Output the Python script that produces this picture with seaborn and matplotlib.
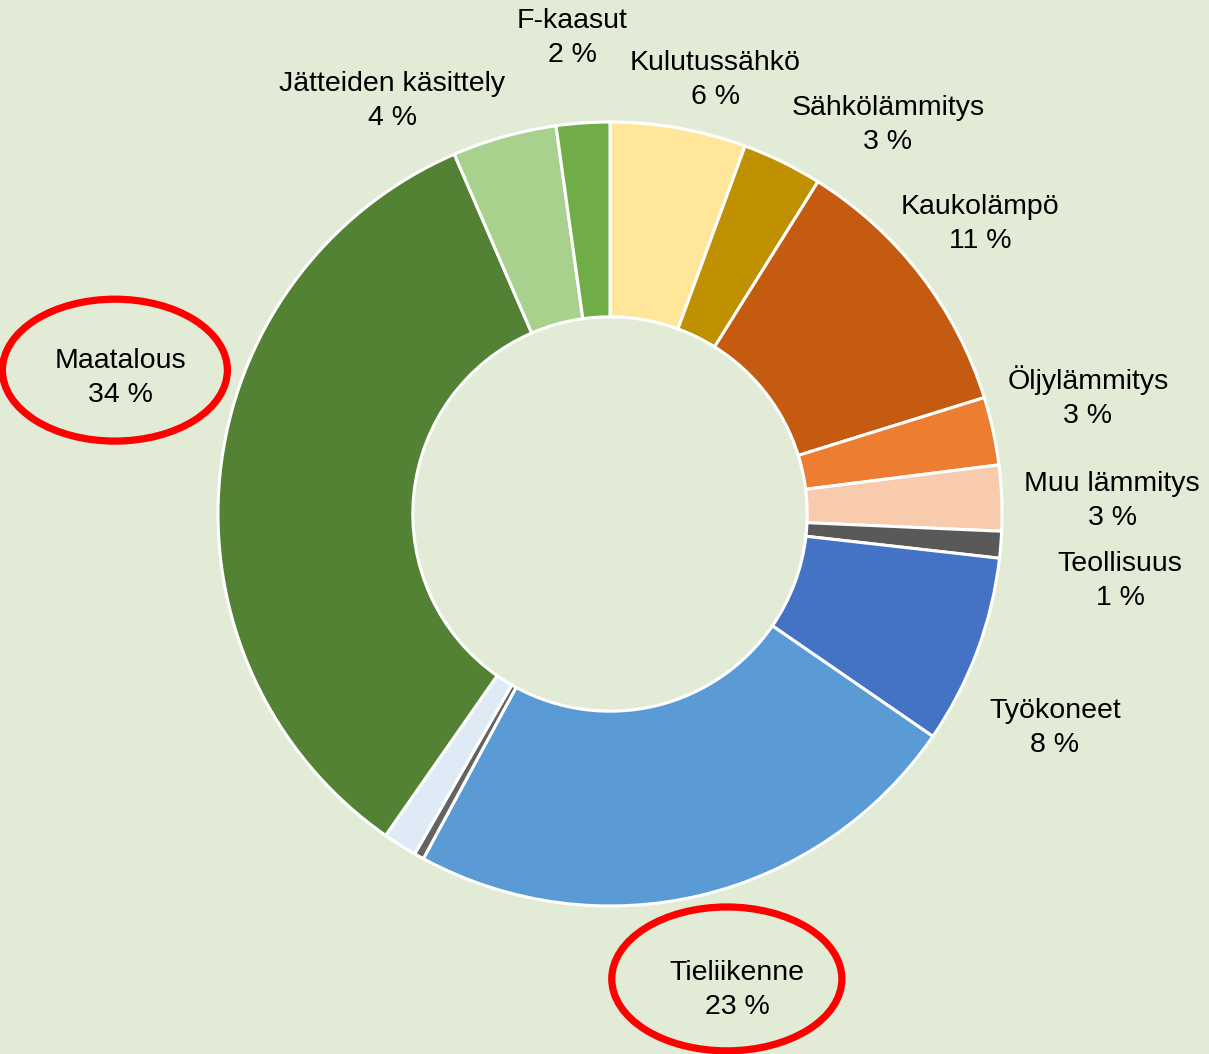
import matplotlib
matplotlib.use("Agg")
import matplotlib.pyplot as plt
from matplotlib.patches import Ellipse
import seaborn as sns

# Share of emissions by sector (%), clockwise from 12 o'clock
sectors = ["Kulutussähkö", "Sähkölämmitys", "Kaukolämpö", "Öljylämmitys",
           "Muu lämmitys", "Teollisuus", "Työkoneet", "Tieliikenne",
           "Muu liikenne", "Muu liikenne 2", "Maatalous",
           "Jätteiden käsittely", "F-kaasut"]
shares = [5.6, 3.3, 11.3, 2.8, 2.7, 1.1, 7.8, 23.3, 0.4, 1.4, 33.8, 4.3, 2.2]
show_label = [True, True, True, True, True, True, True, True,
              False, False, True, True, True]
colors = ["#FFE699", "#BF9000", "#C55A11", "#ED7D31", "#F8CBAD", "#595959",
          "#4472C4", "#5B9BD5", "#636363", "#DEEBF7", "#548235",
          "#A9D18E", "#70AD47"]

# label centres, in units of the outer radius
label_pos = {
    "F-kaasut": (-0.097, 1.214),
    "Kulutussähkö": (0.268, 1.107),
    "Sähkölämmitys": (0.709, 0.992),
    "Kaukolämpö": (0.944, 0.740),
    "Öljylämmitys": (1.219, 0.298),
    "Muu lämmitys": (1.281, 0.033),
    "Teollisuus": (1.301, -0.171),
    "Työkoneet": (1.135, -0.546),
    "Tieliikenne": (0.324, -1.214),
    "Maatalous": (-1.250, 0.347),
    "Jätteiden käsittely": (-0.556, 1.054),
}
highlighted = {"Maatalous": (-1.263, 0.367, 0.574, 0.362),
               "Tieliikenne": (0.298, -1.186, 0.587, 0.367)}

bg = "#E2EBD6"
sns.set_theme(style="white")
plt.rcParams["font.family"] = ["Liberation Sans", "DejaVu Sans"]

fig = plt.figure(figsize=(12.09, 10.54), dpi=100, facecolor=bg)
ax = fig.add_axes([0, 0, 1, 1])
ax.set_facecolor(bg)

ax.pie(shares, colors=colors, startangle=90, counterclock=False, radius=1,
       wedgeprops=dict(width=0.497, edgecolor="white", linewidth=2.2))

for name, v, show in zip(sectors, shares, show_label):
    if not show:
        continue
    x, y = label_pos[name]
    ax.text(x, y, f"{name}\n{round(v)} %", ha="center", va="center",
            fontsize=20.5, color="black", linespacing=1.4)

for name, (cx, cy, w, h) in highlighted.items():
    ax.add_patch(Ellipse((cx, cy), w, h, fill=False, edgecolor="#FF0000",
                         linewidth=5.2))

ax.set_xlim(-610 / 392, 599 / 392)
ax.set_ylim(-540 / 392, 514 / 392)
ax.set_aspect("equal")
ax.axis("off")

fig.savefig("out.png", dpi=100, facecolor=bg)
